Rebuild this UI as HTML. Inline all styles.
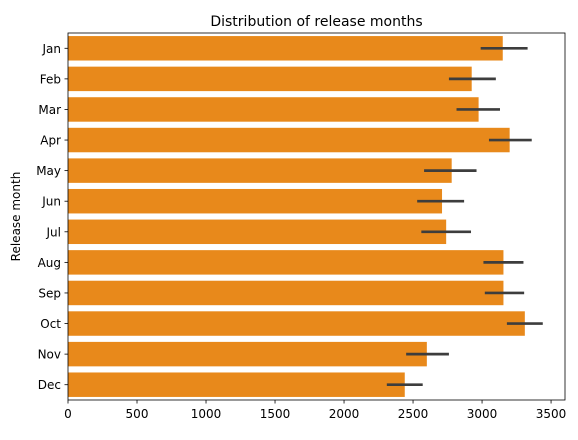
<!DOCTYPE html>
<html><head><meta charset="utf-8"><style>
body{margin:0;background:#fff;font-family:"Liberation Sans","DejaVu Sans",sans-serif}
svg text{font-family:"DejaVu Sans","Liberation Sans",sans-serif;font-size:12px;fill:#000}
</style></head><body>
<svg id="chart" width="578" height="435"></svg>
<script>
const months=["Jan","Feb","Mar","Apr","May","Jun","Jul","Aug","Sep","Oct","Nov","Dec"];
const means=[3150,2925,2975,3200,2780,2710,2740,3155,3155,3310,2600,2440];
const ciLow=[2990,2760,2815,3050,2580,2530,2560,3010,3020,3180,2450,2310];
const ciHigh=[3330,3100,3130,3360,2960,2870,2920,3300,3305,3440,2760,2570];
const xTicks=[0,500,1000,1500,2000,2500,3000,3500];
const NS="http://www.w3.org/2000/svg";
const svg=document.getElementById('chart');
const L=68,R=565,T=33,B=400,xMax=3601;
const x=v=>L+v/xMax*(R-L);
const band=(B-T)/months.length;
const yc=i=>T+band*(i+0.5);
function mk(t,a,p){const e=document.createElementNS(NS,t);for(const k in a)e.setAttribute(k,a[k]);(p||svg).appendChild(e);return e;}
months.forEach((m,i)=>{
  const r=mk('rect',{x:L,y:yc(i)-band*0.4,width:x(means[i])-L,height:band*0.8,fill:'#e8891b'});
  
  
  const l=mk('line',{x1:x(ciLow[i]),x2:x(ciHigh[i]),y1:yc(i),y2:yc(i),stroke:'#3d3d3d','stroke-width':2.7});
  
  
  mk('line',{x1:L-3.5,x2:L,y1:yc(i),y2:yc(i),stroke:'#000','stroke-width':0.8});
  const t=mk('text',{x:L-7,y:yc(i)+4.5,'text-anchor':'end'});t.textContent=m;
  
  
});
xTicks.forEach(v=>{
  mk('line',{x1:x(v),x2:x(v),y1:B,y2:B+3.5,stroke:'#000','stroke-width':0.8});
  const t=mk('text',{x:x(v),y:B+18,'text-anchor':'middle'});t.textContent=v;
  
  
});
const f=mk('rect',{x:L,y:T,width:R-L,height:B-T,fill:'none',stroke:'#000','stroke-width':0.8});


const ti=mk('text',{x:(L+R)/2,y:T-7,'text-anchor':'middle',style:'font-size:14px'});ti.textContent='Distribution of release months';


const yl=mk('text',{x:0,y:0,'text-anchor':'middle',transform:`translate(20,${(T+B)/2}) rotate(-90)`});yl.textContent='Release month';


</script>
</body></html>
